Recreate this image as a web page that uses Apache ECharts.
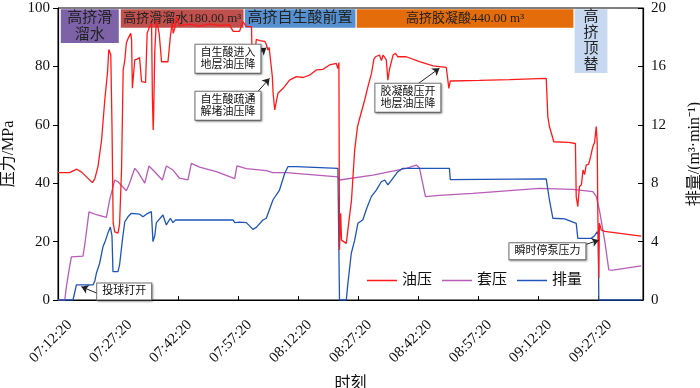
<!DOCTYPE html>
<html>
<head>
<meta charset="utf-8">
<script src="https://cdn.jsdelivr.net/npm/echarts@6/dist/echarts.min.js"></script>
<style>
  html, body { margin: 0; padding: 0; background: #fff; }
  #main { width: 700px; height: 388px; }
</style>
</head>
<body>
<div id="main"></div>
<script>
// 时间轴: 距 07:12:20 的分钟数
var oilT = [0, 2.9, 4.7, 5.9, 8.6, 9.2, 10.0, 10.9, 11.7, 12.4, 12.7, 12.9, 13.2, 13.5, 13.8, 14.2, 15.0, 15.4, 15.9, 16.3,
  16.7, 17.1, 17.5, 18.2, 18.4, 18.6, 19.2, 19.8, 20.4, 20.9, 21.9, 22.3, 22.9, 23.4, 23.6, 23.8, 23.9, 24.2, 24.6, 25.3,
  25.9, 27.5, 28.1, 28.6, 28.8, 29.2, 29.6, 30.4, 32.9, 35.4, 37.9, 40.4, 42.9, 43.8, 45.4, 46.2, 47.2, 48.4, 48.5, 48.9,
  49.6, 50.4, 51.7, 52.1, 52.5, 52.8, 53.1, 53.6, 53.8, 54.2, 55.0, 56.3, 57.9, 59.6, 61.3, 62.9, 64.6, 66.3, 67.9, 69.6,
  70.0, 70.25, 70.4, 70.7, 70.9, 72.1, 72.5, 73.4, 74.2, 74.9, 75.4, 76.7, 77.5, 78.4, 79.0, 79.4, 80.4, 80.9, 81.3, 82.1,
  82.5, 82.9, 83.8, 84.4, 85.0, 87.1, 90.4, 93.8, 97.1, 97.5, 97.75, 98.1, 105.4, 112.9, 122.1, 122.5, 122.9, 123.4, 124.0, 127.7,
  127.9, 129.4, 129.6, 130.0, 130.4, 130.9, 131.3, 131.7, 132.1, 132.7, 133.2, 133.75, 134.2, 134.6, 134.85, 135.0, 135.25, 135.4, 135.85, 136.7,
  145.85];
var oilP = [43.6, 43.6, 44.8, 43.8, 40.2, 41.5, 45.7, 54.8, 68.5, 78.2, 85.8, 86.2, 84, 60, 26.3, 23.3, 22.9, 26, 45, 78.8,
  82, 88, 89.5, 91.3, 89, 72.5, 82.2, 82.5, 83, 74.8, 74.5, 91.4, 93.6, 94.5, 70, 58.2, 62, 85, 95.9, 91.3,
  81.6, 81.6, 90.2, 95.3, 91.3, 93, 97, 94, 94.5, 93.8, 94.6, 94, 94.2, 92, 92, 95.3, 93.6, 93.6, 85.6, 80,
  89.3, 88.8, 88.6, 87.5, 85.6, 86.5, 82.8, 76.5, 70.8, 65.1, 70.8, 72.5, 75.3, 76.5, 76.2, 77, 78.8, 79, 80.5, 81,
  79.3, 81.3, 17.1, 29.7, 20.5, 19.4, 24, 34.2, 51.4, 59.4, 62, 68.5, 73, 77.6, 82.5, 83.3, 83.9, 82, 83.9, 82.2,
  75.3, 79, 83.9, 84.5, 83.3, 83.3, 81.6, 80.2, 79.7, 79.2, 72.5, 75, 75.2, 75.5, 75.9, 62.8, 59.4, 59, 54.2, 54,
  53.4, 53.6, 35.4, 32, 38.8, 39.5, 44.5, 43, 46.2, 46.5, 49.1, 52.5, 54, 59.4, 54, 30, 7.5, 26.3, 24, 23.5,
  21.9];

var casT = [0, 1.7, 2.1, 2.9, 3.35, 6.25, 6.7, 7.75, 9.6, 12.1, 12.9, 14.2, 15.0, 17.1, 17.9, 19.2, 20.0, 21.7, 22.75, 23.75,
  26.1, 27.1, 28.75, 30.4, 32.5, 33.35, 35.4, 39.6, 44.2, 44.75, 47.1, 52.1, 53.75, 57.1, 70.0, 70.4, 78.75, 87.1, 89.6, 90.4,
  91.9, 95.4, 103.75, 112.1, 120.4, 128.75, 133.75, 134.6, 135.4, 136.7, 137.75, 138.75, 145.85];
var casP = [0, 0, 4.6, 11.4, 14.8, 15, 19, 30.2, 29.2, 28.3, 34.2, 41.1, 40.5, 37.4, 40, 45.1, 43.8, 40, 45.9, 44.5,
  41.1, 45.9, 44.5, 41.7, 41.1, 46.8, 45.5, 44, 41.6, 45.9, 45, 44.3, 43.6, 43.6, 42.2, 41.1, 42.8, 45.1, 46.2, 45.2,
  35.4, 35.8, 36.5, 37.4, 38.2, 37.9, 37.1, 35.5, 30.8, 20.5, 10.3, 10.2, 11.7];

var rateT = [0, 3.75, 4.6, 8.75, 9.2, 9.6, 10.4, 11.25, 11.9, 12.5, 13.1, 13.5, 13.75, 15.0, 15.4, 16.1, 16.7, 17.5, 18.35, 20.4,
  21.25, 22.1, 23.35, 23.75, 24.2, 24.6, 26.25, 27.1, 28.1, 28.75, 29.4, 43.75, 44.2, 45.4, 47.1, 48.75, 49.6, 51.25, 52.1, 53.75,
  55.4, 56.7, 57.5, 59.6, 70.0, 70.35, 70.4, 72.1, 72.5, 73.35, 74.2, 75.0, 76.25, 77.1, 78.35, 79.6, 80.85, 81.7, 82.5, 83.35,
  85.0, 86.25, 97.9, 98.1, 122.1, 122.9, 123.75, 126.7, 129.6, 130.0, 133.35, 134.2, 134.85, 135.1, 135.25, 145.85];
var rateQ = [0, 0, 1.03, 1.03, 1.3, 1.83, 2.5, 3.65, 4.1, 4.6, 5.0, 4.4, 1.94, 1.94, 2.4, 4.1, 5.36, 5.7, 5.94, 5.88,
  5.7, 5.88, 6.05, 4.0, 4.4, 5.3, 5.82, 5.14, 5.6, 5.3, 5.48, 5.48, 5.3, 5.34, 5.3, 4.84, 4.97, 5.48, 5.6, 6.85,
  7.53, 8.68, 9.13, 9.13, 9.02, 9.02, 0, 0, 1.14, 3.2, 4.1, 5.25, 5.5, 6.2, 7.08, 7.53, 8.1, 8.22, 7.88, 8.2,
  8.79, 9.02, 9.02, 8.25, 8.29, 6.85, 5.6, 5.55, 5.25, 4.22, 4.22, 4.4, 4.68, 4.5, 0, 0];

// 施工阶段
var stageNames = ['高挤滑\n溜水', '高挤滑溜水180.00 m³', '高挤自生酸前置', '高挤胶凝酸440.00 m³', '高\n挤\n顶\n替'];
var stageStart = [0.7, 15.7, 46.7, 74.7, 129.2];
var stageEnd = [15.2, 46.4, 74.4, 128.9, 137.4];
var stageBottom = [88.0, 93.2, 93.2, 93.2, 77.7];
var stageColors = ['#7d62a8', '#c0504d', '#5590d0', '#e46c0a', '#c6d9f0'];

// 标注
var noteText = ['投球打开', '自生酸进入\n地层油压降', '自生酸疏通\n解堵油压降', '胶凝酸压开\n地层油压降', '瞬时停泵压力'];
var noteBox = [[16.55, 2.9], [42.5, 82.6], [42.5, 66.5], [87.5, 69.3], [122.4, 16.7]];
var arrowFrom = [[10.85, 1.7], [49.2, 83.3], [49.6, 70.8], [89.6, 73.6], [130.25, 18.25]];
var arrowTo = [[5.85, 4.55], [52.1, 86.4], [52.9, 75.9], [95.4, 79.4], [135.25, 20.5]];

var serif = "'Liberation Serif', 'Noto Sans CJK SC', serif";

const zip = (a, b) => a.map((v, i) => [v, b[i]]);

const fmtTime = (v) => {
    var s = Math.round(7 * 3600 + 12 * 60 + 20 + v * 60);
    var p = (n) => (n < 10 ? '0' : '') + n;
    return p(Math.floor(s / 3600)) + ':' + p(Math.floor(s % 3600 / 60)) + ':' + p(s % 60);
};

var myChart = echarts.init(document.getElementById('main'));

const option = {
    animation: false,
    grid: {
        left: 58, right: 57, top: 8, bottom: 88,
        outerBoundsMode: 'none',
        show: true, borderColor: '#000', borderWidth: 1
    },
    legend: {
        left: 362, top: 268,
        icon: 'rect',
        itemWidth: 30, itemHeight: 1.5, itemGap: 10,
        textStyle: { fontFamily: serif, fontSize: 15, color: '#111' },
        data: ['油压', '套压', '排量']
    },
    xAxis: {
        type: 'value',
        min: 0, max: 146.3, interval: 15,
        name: '时刻',
        nameLocation: 'middle',
        nameGap: 76,
        nameTextStyle: { fontFamily: serif, fontSize: 16, color: '#111' },
        axisLine: { lineStyle: { color: '#000', width: 1.2 } },
        axisTick: { inside: true, length: 4, lineStyle: { color: '#000' } },
        splitLine: { show: false },
        axisLabel: {
            rotate: 45, margin: 11,
            verticalAlign: 'top',
            padding: [9, 0, 0, 0],
            fontFamily: serif, fontSize: 15, color: '#111',
            showMaxLabel: false,
            formatter: fmtTime
        }
    },
    yAxis: [
        {
            type: 'value', min: 0, max: 100, interval: 20,
            name: '压力/MPa', nameLocation: 'middle', nameGap: 35, nameRotate: 90,
            nameTextStyle: { fontFamily: serif, fontSize: 16, color: '#111' },
            axisLine: { show: true, lineStyle: { color: '#000', width: 1.2 } },
            axisTick: { show: true, length: 5, lineStyle: { color: '#000' } },
            splitLine: { show: false },
            axisLabel: { fontFamily: serif, fontSize: 15, color: '#111', margin: 8 }
        },
        {
            type: 'value', min: 0, max: 20, interval: 4, position: 'right',
            name: '排量/(m³·min⁻¹)', nameLocation: 'middle', nameGap: 44, nameRotate: 90,
            nameTextStyle: { fontFamily: serif, fontSize: 16, color: '#111' },
            axisLine: { show: true, lineStyle: { color: '#000', width: 1.2 } },
            axisTick: { show: true, inside: true, length: 5, lineStyle: { color: '#000' } },
            splitLine: { show: false },
            axisLabel: { fontFamily: serif, fontSize: 15, color: '#111', margin: 8 }
        }
    ],
    series: [
        {
            name: '油压',
            type: 'line',
            yAxisIndex: 0,
            symbol: 'none',
            z: 3,
            data: zip(oilT, oilP),
            lineStyle: { color: '#ff1a1a', width: 1.3 },
            itemStyle: { color: '#ff1a1a' },
            markArea: {
                silent: true,
                data: stageNames.map((n, i) => [
                    {
                        coord: [stageStart[i], 99.6],
                        itemStyle: { color: stageColors[i], opacity: 1 },
                        label: {
                            show: true, position: 'inside', formatter: n,
                            fontFamily: serif, fontSize: i === 1 || i === 3 ? 13 : 15,
                            lineHeight: i === 4 ? 16 : 17, color: '#222'
                        }
                    },
                    { coord: [stageEnd[i], stageBottom[i]] }
                ])
            },
            markLine: {
                silent: true,
                symbol: ['none', 'arrow'],
                symbolSize: 7,
                label: { show: false },
                lineStyle: { color: '#222', width: 1, type: 'solid' },
                data: arrowFrom.map((a, i) => [{ coord: a }, { coord: arrowTo[i] }])
            },
            markPoint: {
                silent: true,
                symbol: 'rect',
                symbolSize: 0,
                data: noteText.map((t, i) => ({
                    coord: noteBox[i],
                    label: {
                        show: true, position: 'inside', formatter: t,
                        fontFamily: serif, fontSize: 11, lineHeight: 12, color: '#111',
                        backgroundColor: '#fff', borderColor: '#777', borderWidth: 1,
                        padding: [2, 5],
                        shadowColor: 'rgba(0,0,0,0.35)', shadowBlur: 2, shadowOffsetX: 1, shadowOffsetY: 1
                    }
                }))
            }
        },
        {
            name: '套压',
            type: 'line',
            yAxisIndex: 0,
            symbol: 'none',
            z: 2,
            data: zip(casT, casP),
            lineStyle: { color: '#b85cb8', width: 1.3 },
            itemStyle: { color: '#b85cb8' }
        },
        {
            name: '排量',
            type: 'line',
            yAxisIndex: 1,
            symbol: 'none',
            z: 2,
            data: zip(rateT, rateQ),
            lineStyle: { color: '#1f55b8', width: 1.3 },
            itemStyle: { color: '#1f55b8' }
        }
    ]
};

myChart.setOption(option);
</script>
</body>
</html>
